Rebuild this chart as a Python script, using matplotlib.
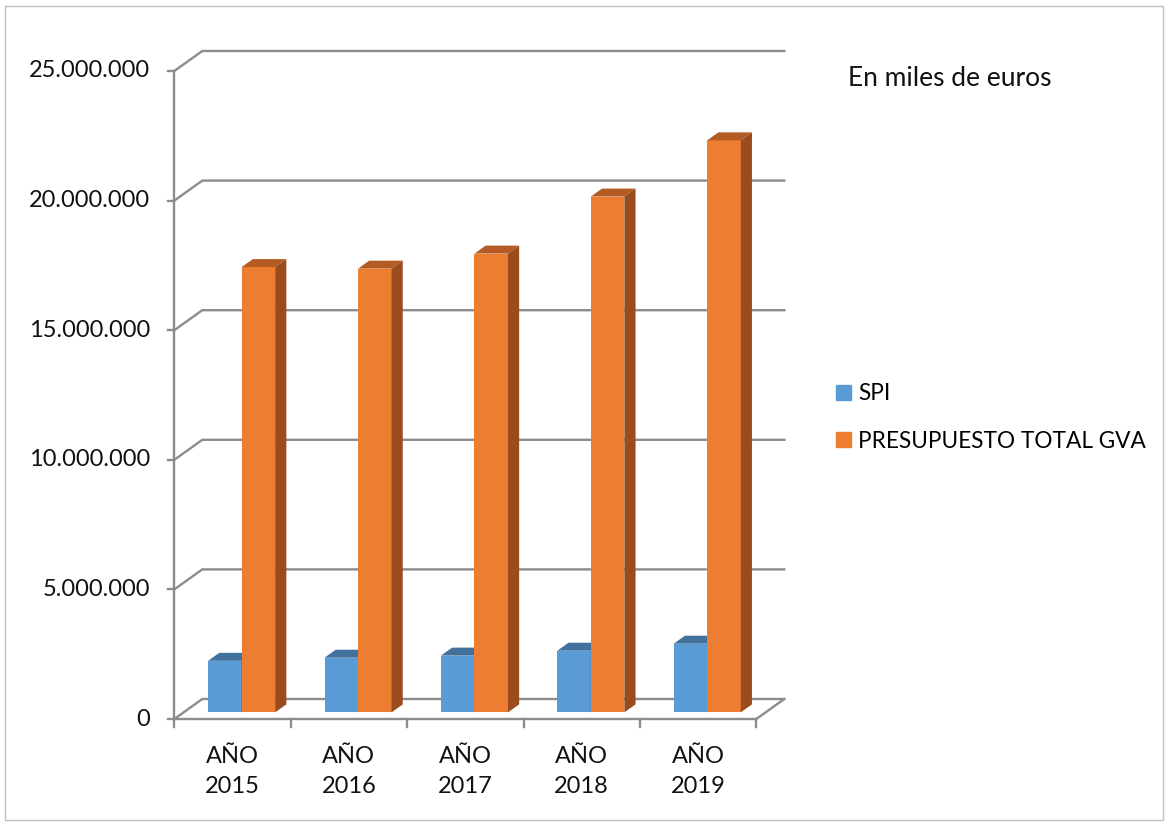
import matplotlib.pyplot as plt
from matplotlib.patches import Polygon, Patch, Rectangle

# === data (miles de euros) ===
categorias = ["AÑO\n2015", "AÑO\n2016", "AÑO\n2017", "AÑO\n2018", "AÑO\n2019"]
spi = [1990000, 2110000, 2190000, 2380000, 2650000]
presupuesto = [17180000, 17120000, 17700000, 19900000, 22070000]
ticks_y = [0, 5000000, 10000000, 15000000, 20000000, 25000000]
series = ["SPI", "PRESUPUESTO TOTAL GVA"]

plt.rcParams['font.family'] = ['Lato', 'DejaVu Sans']

W, H = 1167, 823
fig = plt.figure(figsize=(W / 100, H / 100), dpi=100)
ax = fig.add_axes([0, 0, 1, 1])
ax.axis('off')

# === front plane geometry (pixels -> data units) ===
x0_px, cat_px = 232.5, 116.4
y0_px, px_per_unit = 719, 25.92e-6
ax.set_xlim(-x0_px / cat_px, (W - x0_px) / cat_px)
ax.set_ylim((y0_px - H) / px_per_unit, y0_px / px_per_unit)

# depth of the 3d box
dx = 28 / cat_px
dy = 20 / px_per_unit
n = len(categorias)
x_left, x_right = -0.5, n - 0.5
grid_col = '#8c8c8c'
lw = 1.7

# === walls, gridlines, floor ===
for t in ticks_y:
    ax.plot([x_left, x_left + dx, x_right + dx], [t, t + dy, t + dy],
            color=grid_col, lw=lw, solid_joinstyle='miter', zorder=1)
    ax.plot([x_left - 6 / cat_px, x_left], [t, t], color=grid_col, lw=lw, zorder=1)
    ax.text(x_left - 24 / cat_px, t, f"{t:,.0f}".replace(',', '.'),
            ha='right', va='center', fontsize=17, color='#111111')

ax.plot([x_left, x_left], [0, ticks_y[-1]], color=grid_col, lw=lw, zorder=1)
ax.plot([x_left, x_right, x_right + dx], [0, 0, dy], color=grid_col, lw=lw,
        solid_joinstyle='miter', zorder=1)
for i in range(n + 1):
    xb = x_left + i
    ax.plot([xb, xb], [0, -8 / px_per_unit], color=grid_col, lw=lw, zorder=1)

for i, cat in enumerate(categorias):
    ax.text(i, -27 / px_per_unit, cat, ha='center', va='top', fontsize=17,
            linespacing=1.55, color='#111111')

# === 3d bars ===
f0 = 0.33            # depth position of the bar front
fb = 0.40            # bar depth as fraction of box depth
w = 0.288
offsets = [-0.145, 0.143]
colores = [('#5B9BD5', '#41719C', '#3A6690'),
           ('#ED7D31', '#B45B23', '#9A4C1E')]
bdx, bdy = fb * dx, fb * dy

for i in range(n):
    for s, vals in enumerate([spi, presupuesto]):
        front, top_c, side_c = colores[s]
        v = vals[i]
        xl = i + offsets[s] - w / 2 + f0 * dx
        xr = xl + w
        base = f0 * dy
        top = base + v
        ax.bar(xl, v, width=w, bottom=base, align='edge', color=front,
               linewidth=0, zorder=3)
        ax.add_patch(Polygon([(xl, top), (xr, top), (xr + bdx, top + bdy),
                              (xl + bdx, top + bdy)], closed=True,
                             color=top_c, lw=0, zorder=3))
        ax.add_patch(Polygon([(xr, base), (xr, top), (xr + bdx, top + bdy),
                              (xr + bdx, base + bdy)], closed=True,
                             color=side_c, lw=0, zorder=3))

# === texts and legend ===
fig.text(848 / W, 1 - 79 / H, "En miles de euros", ha='left', va='center',
         fontsize=19, color='#111111')

handles = [Patch(color=colores[k][0], label=series[k]) for k in range(2)]
fig.legend(handles=handles, loc='center left',
           bbox_to_anchor=(836 / W, 1 - 417.5 / H), frameon=False,
           fontsize=16.3, handlelength=0.68, handleheight=0.68,
           handletextpad=0.3, labelspacing=1.15, borderpad=0, borderaxespad=0)

# outer chart border
fig.add_artist(Rectangle((5 / W, 1 - 820 / H), 1158 / W, 814 / H,
                         transform=fig.transFigure, fill=False,
                         ec='#bfbfbf', lw=1))

fig.savefig("out.png", dpi=100)
